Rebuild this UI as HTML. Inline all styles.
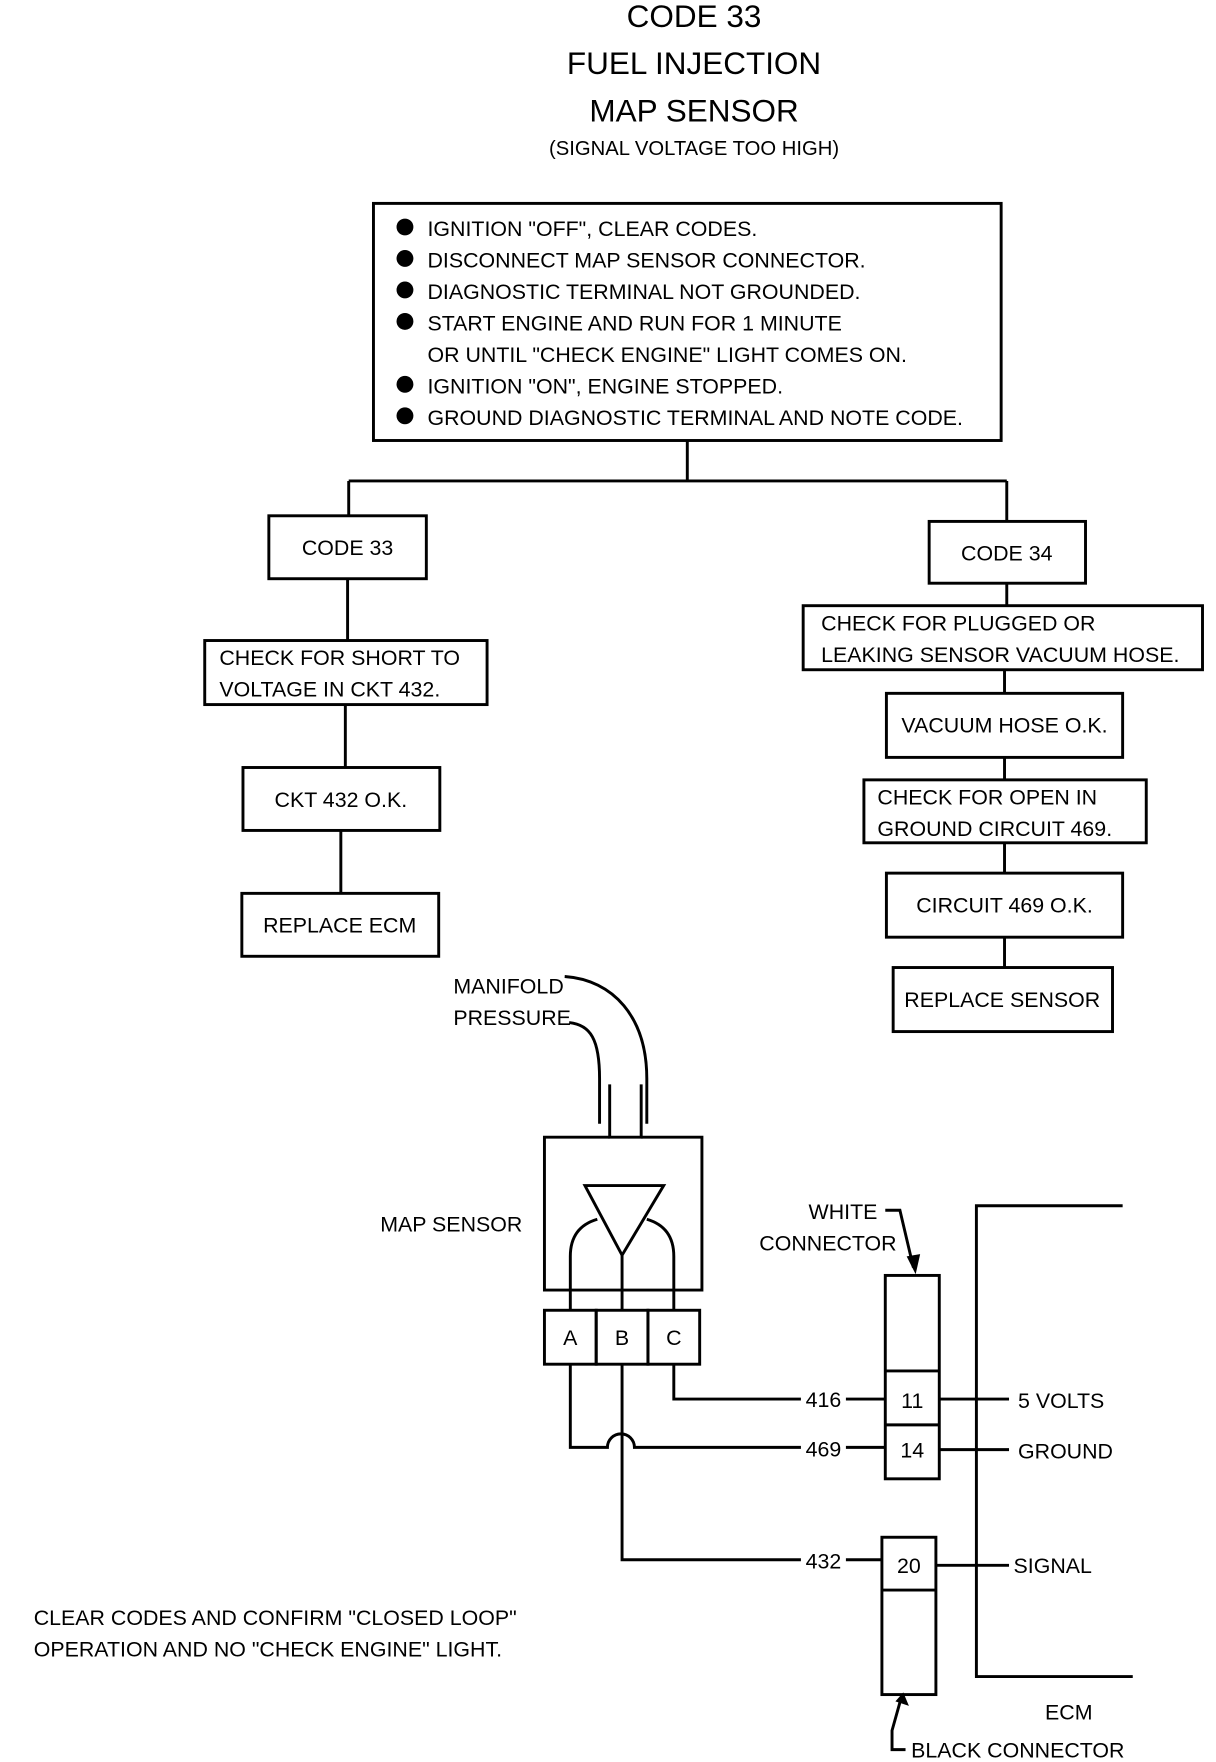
<!DOCTYPE html>
<html><head><meta charset="utf-8"><style>
html,body{margin:0;padding:0;background:#fff;}
svg{display:block}
text{font-family:"Liberation Sans Narrow","Liberation Sans",sans-serif;fill:#000;}
</style></head><body>
<svg width="1216" height="1762" viewBox="0 0 1081 1568" preserveAspectRatio="none" xmlns="http://www.w3.org/2000/svg">
<g fill="none" stroke="#000" stroke-width="2.6">
<rect x="332" y="181" width="558" height="211"/>
<path d="M611 392V428M310 428H895M310 428V459M895 428V464"/>
<rect x="239" y="459" width="140" height="56"/>
<path d="M309 515V570"/>
<rect x="182" y="570" width="251" height="57"/>
<path d="M307 627V683"/>
<rect x="216" y="683" width="175" height="56"/>
<path d="M303 739V795"/>
<rect x="215" y="795" width="175" height="56"/>
<rect x="826" y="464" width="139" height="55"/>
<path d="M895 519V539"/>
<rect x="714" y="539" width="355" height="57"/>
<path d="M893 596V617"/>
<rect x="788" y="617" width="210" height="57"/>
<path d="M893 674V694"/>
<rect x="768" y="694" width="251" height="56"/>
<path d="M893 750V777"/>
<rect x="788" y="777" width="210" height="57"/>
<path d="M893 834V861"/>
<rect x="794" y="861" width="195" height="57"/>
<!-- hose -->
<path d="M502 869 C545 872 575 905 575 960V1000"/>
<path d="M506 910 C525 912 533 925 533 960V1000"/>
<path d="M542 965V1012 H570 V965"/>
<path d="M542 1012 H484 V1148 H624 V1012 H570"/>
<path d="M520 1055 H590 L553 1117 Z"/>
<path d="M507 1166 V1118 Q507 1092 531 1085"/>
<path d="M599 1166 V1118 Q599 1092 575 1085"/>
<path d="M553 1117 V1166"/>
<rect x="484" y="1166" width="46" height="48"/>
<rect x="530" y="1166" width="46" height="48"/>
<rect x="576" y="1166" width="46" height="48"/>
<path d="M599 1214 V1245 H712 M752 1245 H787"/>
<path d="M507 1214 V1288 H540 A12 12 0 0 1 564 1288 H712 M752 1288 H787"/>
<path d="M553 1214 V1388 H712 M752 1388 H784"/>
<rect x="787" y="1135" width="48" height="181"/>
<path d="M787 1220 H835 M787 1268 H835"/>
<rect x="784" y="1368" width="48" height="140"/>
<path d="M784 1415 H832"/>
<path d="M787 1077 H800 L812 1128"/>
<path d="M835 1245 H897 M835 1290 H897 M832 1393 H897"/>
<path d="M998 1073 H868 V1492 H1007"/>
<path d="M805 1557 H793 V1540 L800 1515"/>
</g>
<path d="M806 1118 L818 1116 L814 1134 Z M796 1514 L808 1518 L803 1506 Z" fill="#000"/>
<g fill="#000">
<circle cx="360" cy="202" r="7.5"/><circle cx="360" cy="230" r="7.5"/><circle cx="360" cy="258" r="7.5"/><circle cx="360" cy="286" r="7.5"/><circle cx="360" cy="342" r="7.5"/><circle cx="360" cy="370" r="7.5"/>
</g>
<g font-size="28" text-anchor="middle">
<text x="617" y="24">CODE 33</text>
<text x="617" y="66">FUEL INJECTION</text>
<text x="617" y="108">MAP SENSOR</text>
<text x="617" y="138" font-size="18">(SIGNAL VOLTAGE TOO HIGH)</text>
</g>
<g font-size="19">
<text x="380" y="210">IGNITION "OFF", CLEAR CODES.</text>
<text x="380" y="238">DISCONNECT MAP SENSOR CONNECTOR.</text>
<text x="380" y="266">DIAGNOSTIC TERMINAL NOT GROUNDED.</text>
<text x="380" y="294">START ENGINE AND RUN FOR 1 MINUTE</text>
<text x="380" y="322">OR UNTIL "CHECK ENGINE" LIGHT COMES ON.</text>
<text x="380" y="350">IGNITION "ON", ENGINE STOPPED.</text>
<text x="380" y="378">GROUND DIAGNOSTIC TERMINAL AND NOTE CODE.</text>
<text x="309" y="494" text-anchor="middle">CODE 33</text>
<text x="895" y="499" text-anchor="middle">CODE 34</text>
<text x="195" y="592">CHECK FOR SHORT TO</text>
<text x="195" y="620">VOLTAGE IN CKT 432.</text>
<text x="303" y="718" text-anchor="middle">CKT 432 O.K.</text>
<text x="302" y="830" text-anchor="middle">REPLACE ECM</text>
<text x="730" y="561">CHECK FOR PLUGGED OR</text>
<text x="730" y="589">LEAKING SENSOR VACUUM HOSE.</text>
<text x="893" y="652" text-anchor="middle">VACUUM HOSE O.K.</text>
<text x="780" y="716">CHECK FOR OPEN IN</text>
<text x="780" y="744">GROUND CIRCUIT 469.</text>
<text x="893" y="812" text-anchor="middle">CIRCUIT 469 O.K.</text>
<text x="891" y="896" text-anchor="middle">REPLACE SENSOR</text>
<text x="403" y="884">MANIFOLD</text>
<text x="403" y="912">PRESSURE</text>
<text x="338" y="1096">MAP SENSOR</text>
<text x="507" y="1197" text-anchor="middle">A</text>
<text x="553" y="1197" text-anchor="middle">B</text>
<text x="599" y="1197" text-anchor="middle">C</text>
<text x="780" y="1085" text-anchor="end">WHITE</text>
<text x="675" y="1113">CONNECTOR</text>
<text x="732" y="1252" text-anchor="middle">416</text>
<text x="732" y="1296" text-anchor="middle">469</text>
<text x="732" y="1396" text-anchor="middle">432</text>
<text x="811" y="1253" text-anchor="middle">11</text>
<text x="811" y="1297" text-anchor="middle">14</text>
<text x="808" y="1400" text-anchor="middle">20</text>
<text x="905" y="1253">5 VOLTS</text>
<text x="905" y="1298">GROUND</text>
<text x="901" y="1400">SIGNAL</text>
<text x="929" y="1530">ECM</text>
<text x="810" y="1564">BLACK CONNECTOR</text>
<text x="30" y="1446">CLEAR CODES AND CONFIRM "CLOSED LOOP"</text>
<text x="30" y="1474">OPERATION AND NO "CHECK ENGINE" LIGHT.</text>
</g>
</svg>
</body></html>
